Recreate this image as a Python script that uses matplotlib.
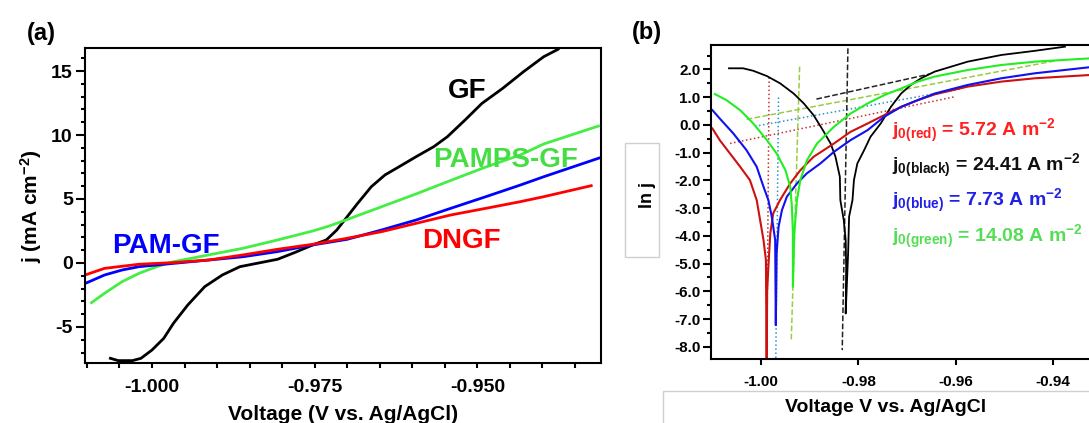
import matplotlib
matplotlib.use("Agg")
import matplotlib.pyplot as plt
from matplotlib.patches import Rectangle
from matplotlib.ticker import MultipleLocator, FormatStrFormatter

plt.rcParams['font.family'] = ['Liberation Sans', 'DejaVu Sans']
plt.rcParams['font.weight'] = 'bold'
plt.rcParams['mathtext.default'] = 'regular'
plt.rcParams['axes.unicode_minus'] = False

# ---- panel (a): j vs V -------------------------------------------------------
gf_v = [-1.0064, -1.0052, -1.0030, -1.0017, -1.0000, -0.9982, -0.9967, -0.9945, -0.9919,
        -0.9892, -0.9865, -0.9839, -0.9807, -0.9780, -0.9753, -0.9732, -0.9716, -0.9700,
        -0.9684, -0.9663, -0.9642, -0.9620, -0.9594, -0.9567, -0.9546, -0.9519, -0.9493,
        -0.9461, -0.9429, -0.9398, -0.9376]
gf_j = [-7.45, -7.63, -7.63, -7.45, -6.80, -5.89, -4.71, -3.28, -1.85, -0.94, -0.29, -0.03,
        0.29, 0.83, 1.41, 1.80, 2.58, 3.62, 4.66, 5.96, 6.88, 7.53, 8.31, 9.09, 9.87, 11.17,
        12.47, 13.65, 14.95, 16.12, 16.70]

pamps_v = [-1.0093, -1.0073, -1.0046, -1.0020, -0.9993, -0.9967, -0.9940, -0.9913, -0.9860,
           -0.9807, -0.9753, -0.9727, -0.9700, -0.9647, -0.9594, -0.9541, -0.9487, -0.9434,
           -0.9398, -0.9314]
pamps_j = [-3.10, -2.37, -1.46, -0.81, -0.29, 0.10, 0.36, 0.63, 1.15, 1.80, 2.50, 2.90, 3.40,
           4.40, 5.40, 6.45, 7.50, 8.44, 9.30, 10.70]

pam_v = [-1.0100, -1.0073, -1.0046, -1.0020, -0.9967, -0.9913, -0.9860, -0.9807, -0.9753,
         -0.9700, -0.9647, -0.9594, -0.9541, -0.9487, -0.9434, -0.9398, -0.9307]
pam_j = [-1.54, -0.94, -0.55, -0.29, -0.03, 0.23, 0.49, 0.89, 1.41, 1.85, 2.58, 3.36, 4.27,
         5.18, 6.09, 6.74, 8.30]

dngf_v = [-1.0100, -1.0073, -1.0020, -0.9967, -0.9913, -0.9860, -0.9807, -0.9753, -0.9700,
          -0.9647, -0.9594, -0.9541, -0.9487, -0.9434, -0.9398, -0.9325]
dngf_j = [-0.89, -0.42, -0.10, 0.03, 0.23, 0.63, 1.07, 1.46, 1.93, 2.45, 3.10, 3.75, 4.27,
          4.79, 5.18, 6.04]

# ---- panel (b): ln j vs V (Tafel) -------------------------------------------
blk_v = [-1.0066, -1.0037, -1.0016, -0.9988, -0.9961, -0.9933, -0.9912, -0.9892, -0.9875,
         -0.9857, -0.9847, -0.9838, -0.9837, -0.9830, -0.9826, -0.9825, -0.9826, -0.9821,
         -0.9819, -0.9812, -0.9809, -0.9802, -0.9788, -0.9775, -0.9754, -0.9733, -0.9712,
         -0.9692, -0.9671, -0.9643, -0.9609, -0.9575, -0.9506, -0.9437, -0.9375]
blk_l = [2.04, 2.04, 1.95, 1.76, 1.50, 1.13, 0.77, 0.35, -0.13, -0.67, -1.15, -1.87, -2.71,
         -3.43, -4.15, -5.12, -6.80, -4.63, -3.31, -2.71, -1.99, -1.39, -0.91, -0.43, 0.05,
         0.65, 1.13, 1.44, 1.68, 1.92, 2.10, 2.28, 2.52, 2.67, 2.82]

red_v = [-1.0100, -1.0085, -1.0064, -1.0043, -1.0023, -1.0009, -1.0002, -0.9995, -0.9990,
         -0.99885, -0.99875, -0.9985, -0.9981, -0.9975, -0.9961, -0.9940, -0.9919, -0.9892,
         -0.9850, -0.9816, -0.9781, -0.9747, -0.9712, -0.9678, -0.9643, -0.9575, -0.9506,
         -0.9437, -0.9303]
red_l = [-0.13, -0.55, -1.03, -1.51, -1.99, -2.71, -3.43, -4.15, -4.88, -9.0, -6.0, -5.12,
         -3.91, -3.19, -2.71, -2.11, -1.63, -1.15, -0.67, -0.25, 0.05, 0.35, 0.65, 0.89, 1.10,
         1.38, 1.56, 1.68, 1.82]

blu_v = [-1.0100, -1.0085, -1.0057, -1.0030, -1.0009, -0.9995, -0.9985, -0.9978, -0.9971,
         -0.99697, -0.9968, -0.9964, -0.9957, -0.9947, -0.9926, -0.9906, -0.9878, -0.9850,
         -0.9816, -0.9781, -0.9747, -0.9712, -0.9678, -0.9643, -0.9575, -0.9506, -0.9437,
         -0.9303]
blu_l = [0.53, 0.23, -0.31, -0.91, -1.51, -2.23, -2.71, -3.31, -4.15, -7.22, -4.63, -3.67,
         -3.07, -2.59, -2.11, -1.75, -1.39, -0.97, -0.55, -0.19, 0.29, 0.65, 0.89, 1.13, 1.44,
         1.68, 1.86, 2.12]

grn_v = [-1.0095, -1.0071, -1.0043, -1.0016, -0.9988, -0.9968, -0.9950, -0.9940, -0.99366,
         -0.99345, -0.99345, -0.99317, -0.99262, -0.99193, -0.99055, -0.98848, -0.98503,
         -0.98159, -0.97814, -0.97469, -0.97124, -0.96779, -0.96434, -0.95745, -0.95055,
         -0.94366, -0.9303]
grn_l = [1.11, 0.89, 0.53, 0.05, -0.55, -1.03, -1.63, -2.23, -2.95, -3.91, -5.84, -3.91,
         -2.71, -1.99, -1.27, -0.67, -0.07, 0.41, 0.77, 1.07, 1.31, 1.56, 1.74, 1.98, 2.16,
         2.28, 2.42]

# Tafel construction lines: (v0, v1), (l0, l1)
fit_blk_vert = ([-0.98214, -0.98331], [2.76, -8.12])
fit_blk_tafel = ([-0.98862, -0.96538], [0.93, 1.83])
fit_grn_vert = ([-0.99207, -0.99379], [2.10, -7.76])
fit_grn_tafel = ([-1.00297, -0.93952], [0.20, 2.31])
fit_blu_vert = ([-0.99641, -0.99697], [0.99, -8.44])
fit_blu_tafel = ([-1.00124, -0.95880], [-0.05, 1.30])
fit_red_vert = ([-0.99834, -0.99883], [1.71, -8.44])
fit_red_tafel = ([-1.00638, -0.96000], [-0.67, 1.02])

j0_labels = [r"j$_{0(red)}$ = 5.72 A m$^{-2}$", r"j$_{0(black)}$ = 24.41 A m$^{-2}$",
             r"j$_{0(blue)}$ = 7.73 A m$^{-2}$", r"j$_{0(green)}$ = 14.08 A m$^{-2}$"]
j0_colors = ["#ff2020", "#111111", "#2020e8", "#55dd55"]
j0_base = [-0.40, -1.67, -2.93, -4.21]

W, H = 1089, 423
fig = plt.figure(figsize=(W / 100, H / 100), dpi=100)


def px_axes(l, t, r, b):
    return fig.add_axes([l / W, 1 - b / H, (r - l) / W, (b - t) / H])


# ---------------- (a) ----------------
ax1 = px_axes(85, 48, 601, 363.3)
ax1.plot(gf_v, gf_j, color="black", lw=2.0)
ax1.plot(pamps_v, pamps_j, color="#44ee44", lw=2.0)
ax1.plot(pam_v, pam_j, color="#0000ff", lw=2.0)
ax1.plot(dngf_v, dngf_j, color="#ff0000", lw=2.0)
ax1.set_xlim(-1.0103, -0.9310)
ax1.set_ylim(-7.84, 16.8)
ax1.xaxis.set_major_locator(MultipleLocator(0.025))
ax1.xaxis.set_minor_locator(MultipleLocator(0.005))
ax1.xaxis.set_major_formatter(FormatStrFormatter("%.3f"))
ax1.yaxis.set_major_locator(MultipleLocator(5))
ax1.yaxis.set_minor_locator(MultipleLocator(1))
ax1.tick_params(axis="both", which="both", direction="out", width=1.5, labelsize=14)
ax1.tick_params(axis="x", which="both", length=3.6, pad=8)
ax1.tick_params(axis="y", which="major", length=6.3, pad=2.5)
ax1.tick_params(axis="y", which="minor", length=3.1)
for s in ax1.spines.values():
    s.set_linewidth(1.5)

ax1.text(-0.95150, 12.9, "GF", color="black", fontsize=20, ha="center", va="baseline")
ax1.text(-0.94561, 7.5, "PAMPS-GF", color="#44dd44", fontsize=20, ha="center", va="baseline")
ax1.text(-0.99793, 0.76, "PAM-GF", color="#0000ff", fontsize=20, ha="center", va="baseline")
ax1.text(-0.95245, 1.15, "DNGF", color="#ff0000", fontsize=20, ha="center", va="baseline")

fig.text(343 / W, 1 - 420 / H, "Voltage (V vs. Ag/AgCl)", fontsize=15, ha="center", va="baseline")
fig.text(31 / W, 1 - 206 / H, r"j (mA cm$^{-2}$)", fontsize=15, rotation=90,
         ha="center", va="center")
fig.text(27 / W, 1 - 40 / H, "(a)", fontsize=17, ha="left", va="baseline")

# ---------------- (b) ----------------
ax2 = px_axes(710.5, 45, 1100, 359)
for (fv, fl), c, ls in [(fit_red_vert, "#c83030", ":"), (fit_red_tafel, "#c83030", ":"),
                        (fit_blu_vert, "#3090d0", ":"), (fit_blu_tafel, "#3090d0", ":"),
                        (fit_grn_vert, "#99cc44", "--"), (fit_grn_tafel, "#99cc44", "--"),
                        (fit_blk_vert, "#222222", "--"), (fit_blk_tafel, "#222222", "--")]:
    ax2.plot(fv, fl, color=c, ls=ls, lw=1.1)
ax2.plot(blk_v, blk_l, color="black", lw=1.3)
ax2.plot(red_v, red_l, color="#cc1111", lw=1.5)
ax2.plot(blu_v, blu_l, color="#1111ee", lw=1.5)
ax2.plot(grn_v, grn_l, color="#22ee22", lw=1.5)
ax2.set_xlim(-1.0104, -0.9303)
ax2.set_ylim(-8.44, 2.88)
ax2.xaxis.set_major_locator(MultipleLocator(0.02))
ax2.xaxis.set_major_formatter(FormatStrFormatter("%.2f"))
ax2.yaxis.set_major_locator(MultipleLocator(1))
ax2.yaxis.set_minor_locator(MultipleLocator(0.5))
ax2.yaxis.set_major_formatter(FormatStrFormatter("%.1f"))
ax2.tick_params(axis="both", which="both", direction="out", width=1.5, labelsize=11)
ax2.tick_params(axis="x", which="major", length=4.3, pad=7)
ax2.tick_params(axis="y", which="major", length=5.8, pad=1.5)
ax2.tick_params(axis="y", which="minor", length=2.9)
for s in ax2.spines.values():
    s.set_linewidth(1.5)
ax2.spines["right"].set_visible(False)

for txt, c, yb in zip(j0_labels, j0_colors, j0_base):
    ax2.text(-0.97305, yb, txt, color=c, fontsize=14, ha="left", va="baseline")

fig.text(886 / W, 1 - 411.7 / H, "Voltage V vs. Ag/AgCl", fontsize=14, ha="center", va="baseline")
fig.text(647 / W, 1 - 195 / H, "ln j", fontsize=13, rotation=90, ha="center", va="center")
fig.text(632 / W, 1 - 38.5 / H, "(b)", fontsize=17, ha="left", va="baseline")

fig.add_artist(Rectangle((625 / W, 1 - 257 / H), 34 / W, 114 / H, transform=fig.transFigure,
                         fill=False, ec="#cfcfcf", lw=1.0))
fig.add_artist(Rectangle((663 / W, 1 - 440 / H), 440 / W, 49 / H, transform=fig.transFigure,
                         fill=False, ec="#cfcfcf", lw=1.0))

fig.savefig("out.png", dpi=100)
